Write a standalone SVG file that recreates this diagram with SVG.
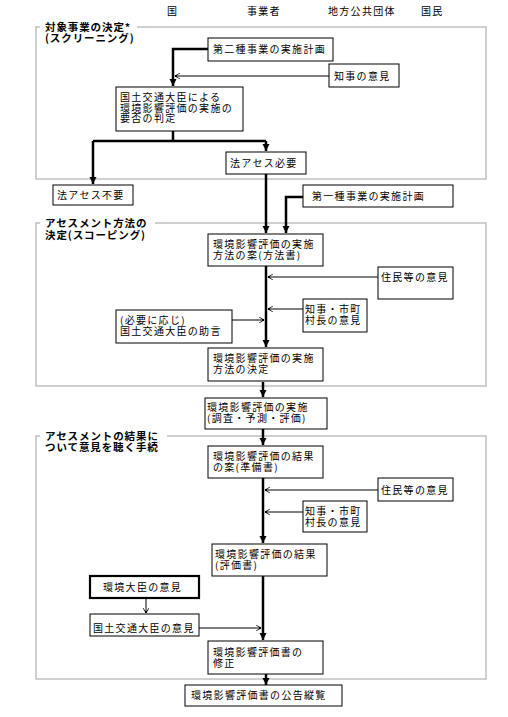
<svg xmlns="http://www.w3.org/2000/svg" width="508" height="717" viewBox="0 0 508 717">
<style>
text{font-family:"Noto Sans CJK JP","Noto Sans",sans-serif;font-size:10px;letter-spacing:1.3px;fill:#000}
.t{font-weight:bold;font-size:10.5px;letter-spacing:0.9px}
.sec{fill:none;stroke:#c0c0c0;stroke-width:1.5}
.bx{fill:#fff;stroke:#000;stroke-width:1}
.bx2{fill:#fff;stroke:#000;stroke-width:2.2}
.k{fill:none;stroke:#000;stroke-width:2.5}
.n{fill:none;stroke:#000;stroke-width:1}
</style>
<defs>
<marker id="ah" markerUnits="userSpaceOnUse" markerWidth="8" markerHeight="8" viewBox="0 0 8 8" refX="7" refY="4" orient="auto"><path d="M0,0.5 L7,4 L0,7.5 Z" fill="#000"/></marker>
<marker id="as" markerUnits="userSpaceOnUse" markerWidth="6" markerHeight="6" viewBox="0 0 6 6" refX="5" refY="3" orient="auto"><path d="M0,0 L5,3 L0,6" fill="none" stroke="#000" stroke-width="0.8"/><rect x="3" y="2" width="2" height="2" fill="#000"/></marker>
</defs>
<rect width="508" height="717" fill="#fff"/>
<g id="header">
<text x="167" y="15">国</text>
<text x="247" y="15">事業者</text>
<text x="328" y="15">地方公共団体</text>
<text x="421" y="15">国民</text>
</g>
<g id="sections">
<rect class="sec" x="36" y="27" width="450" height="152"/>
<rect x="40" y="20" width="97" height="14" fill="#fff"/>
<text class="t" x="45" y="31">対象事業の決定*</text>
<text class="t" x="45" y="42">(スクリーニング)</text>
<rect class="sec" x="36" y="223" width="450" height="163"/>
<rect x="40" y="216" width="115" height="14" fill="#fff"/>
<text class="t" x="45" y="227">アセスメント方法の</text>
<text class="t" x="45" y="239">決定(スコーピング)</text>
<rect class="sec" x="36" y="436" width="450" height="243"/>
<rect x="40" y="429" width="127" height="14" fill="#fff"/>
<text class="t" x="45" y="440">アセスメントの結果に</text>
<text class="t" x="45" y="451">ついて意見を聴く手続</text>
</g>
<g id="connectors">
<path class="k" d="M208,49 H173 V86" marker-end="url(#ah)"/>
<path class="n" d="M329,76 H175" marker-end="url(#as)"/>
<path class="k" d="M173,131 V141"/>
<path class="k" d="M93,141 H266"/>
<path class="k" d="M93,141 V184" marker-end="url(#ah)"/>
<path class="k" d="M266,141 V151" marker-end="url(#ah)"/>
<path class="k" d="M266,174 V233" marker-end="url(#ah)"/>
<path class="k" d="M303,197 H286 V233" marker-end="url(#ah)"/>
<path class="k" d="M266,266 V347" marker-end="url(#ah)"/>
<path class="n" d="M378,277 H268" marker-end="url(#as)"/>
<path class="n" d="M303,309 H268" marker-end="url(#as)"/>
<path class="n" d="M232,320 H264" marker-end="url(#as)"/>
<path class="k" d="M263,382 V397" marker-end="url(#ah)"/>
<path class="k" d="M263,429 V445" marker-end="url(#ah)"/>
<path class="k" d="M263,478 V543" marker-end="url(#ah)"/>
<path class="n" d="M378,490 H265" marker-end="url(#as)"/>
<path class="n" d="M303,512 H265" marker-end="url(#as)"/>
<path class="k" d="M263,576 V640" marker-end="url(#ah)"/>
<path class="n" d="M146,598 V613" marker-end="url(#as)"/>
<path class="n" d="M199,628 H261" marker-end="url(#as)"/>
<path class="k" d="M266,674 V685" marker-end="url(#ah)"/>
</g>
<g id="n1"><rect class="bx" x="208" y="38" width="125" height="23"/><text x="213" y="53">第二種事業の実施計画</text></g>
<g id="n2"><rect class="bx" x="329" y="64" width="70" height="23"/><text x="334" y="80">知事の意見</text></g>
<g id="n3"><rect class="bx" x="116" y="87" width="127" height="44"/><text x="120" y="101">国土交通大臣による</text><text x="120" y="112">環境影響評価の実施の</text><text x="120" y="122">要否の判定</text></g>
<g id="n4"><rect class="bx" x="226" y="152" width="80" height="22"/><text x="230" y="167">法アセス必要</text></g>
<g id="n5"><rect class="bx" x="53" y="185" width="80" height="20"/><text x="57" y="199">法アセス不要</text></g>
<g id="n6"><rect class="bx" x="303" y="185" width="150" height="22"/><text x="312" y="200">第一種事業の実施計画</text></g>
<g id="n7"><rect class="bx" x="208" y="234" width="115" height="32"/><text x="213" y="248">環境影響評価の実施</text><text x="213" y="259">方法の案(方法書)</text></g>
<g id="n8"><rect class="bx" x="378" y="267" width="75" height="32"/><text x="381" y="281">住民等の意見</text></g>
<g id="n9"><rect class="bx" x="303" y="299" width="64" height="33"/><text x="305" y="313">知事・市町</text><text x="305" y="324">村長の意見</text></g>
<g id="n10"><rect class="bx" x="116" y="310" width="116" height="33"/><text x="120" y="324">(必要に応じ)</text><text x="120" y="335">国土交通大臣の助言</text></g>
<g id="n11"><rect class="bx" x="208" y="348" width="115" height="33"/><text x="213" y="362">環境影響評価の実施</text><text x="213" y="373">方法の決定</text></g>
<g id="n12"><rect class="bx" x="205" y="398" width="122" height="31"/><text x="207" y="411">環境影響評価の実施</text><text x="207" y="422">(調査・予測・評価)</text></g>
<g id="n13"><rect class="bx" x="208" y="446" width="115" height="32"/><text x="213" y="460">環境影響評価の結果</text><text x="213" y="471">の案(準備書)</text></g>
<g id="n14"><rect class="bx" x="378" y="478" width="75" height="23"/><text x="381" y="494">住民等の意見</text></g>
<g id="n15"><rect class="bx" x="303" y="501" width="64" height="31"/><text x="305" y="515">知事・市町</text><text x="305" y="526">村長の意見</text></g>
<g id="n16"><rect class="bx" x="212" y="544" width="115" height="32"/><text x="215" y="558">環境影響評価の結果</text><text x="215" y="569">(評価書)</text></g>
<g id="n17"><rect class="bx2" x="90" y="576" width="109" height="22"/><text x="103" y="591">環境大臣の意見</text></g>
<g id="n18"><rect class="bx" x="90" y="614" width="109" height="22"/><text x="93" y="632">国土交通大臣の意見</text></g>
<g id="n19"><rect class="bx" x="208" y="641" width="115" height="33"/><text x="213" y="656">環境影響評価書の</text><text x="213" y="667">修正</text></g>
<g id="n20"><rect class="bx" x="185" y="685" width="157" height="21"/><text x="191" y="699">環境影響評価書の公告縦覧</text></g>
</svg>
